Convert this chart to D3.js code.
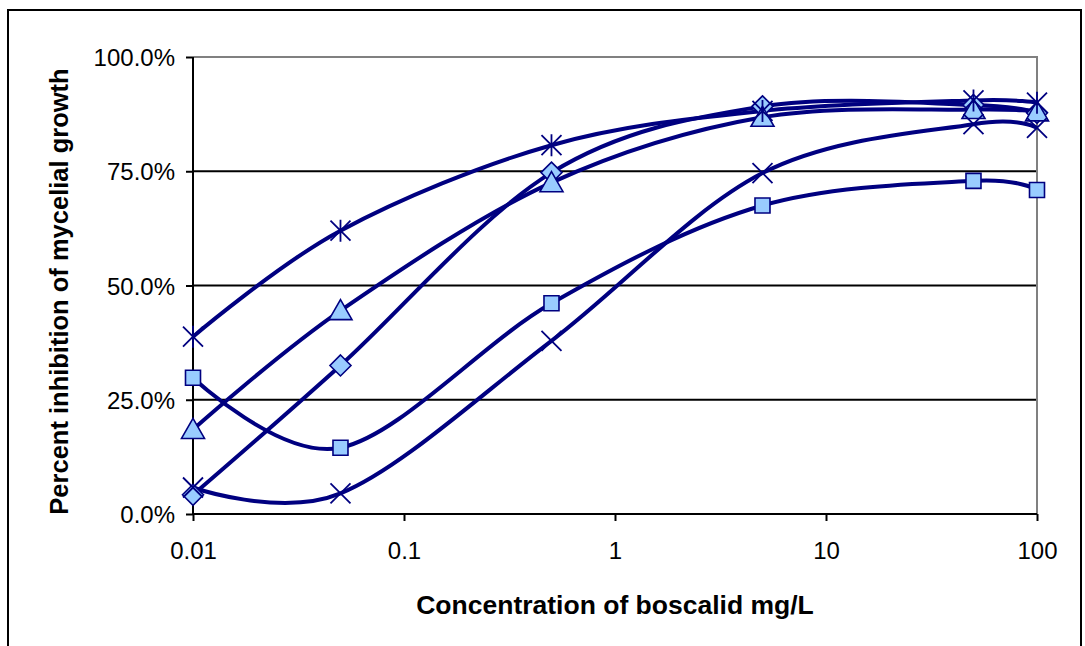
<!DOCTYPE html>
<html>
<head>
<meta charset="utf-8">
<script src="https://cdn.jsdelivr.net/npm/d3@7"></script>
<style>
  html, body { margin: 0; padding: 0; background: #ffffff; }
  svg { display: block; font-family: Arial, "Liberation Sans", sans-serif; }
</style>
</head>
<body>
<svg id="chart" width="1085" height="646"></svg>
<script>
// Boscalid concentrations (mg/L) and percent inhibition for each isolate
const concentrations = [0.01, 0.05, 0.5, 5, 50, 100];
const diamondSeries  = [0.042, 0.325, 0.747, 0.892, 0.895, 0.878];
const squareSeries   = [0.298, 0.145, 0.461, 0.675, 0.729, 0.709];
const triangleSeries = [0.185, 0.445, 0.725, 0.868, 0.885, 0.880];
const crossSeries    = [0.058, 0.045, 0.379, 0.746, 0.853, 0.845];
const starSeries     = [0.388, 0.620, 0.807, 0.882, 0.905, 0.900];
const xTickValues = [0.01, 0.1, 1, 10, 100];
const xTickLabels = ["0.01", "0.1", "1", "10", "100"];
const yTickValues = [0, 0.25, 0.5, 0.75, 1];

const series = [
  { values: diamondSeries,  marker: "diamond" },
  { values: squareSeries,   marker: "square" },
  { values: triangleSeries, marker: "triangle" },
  { values: crossSeries,    marker: "cross" },
  { values: starSeries,     marker: "star" }
];

const LINE = "#000080";
const FILL = "#99CCFF";

const svg = d3.select("#chart");
const plot = { left: 193, right: 1037, top: 57, bottom: 514 };

// Outer chart frame
svg.append("rect")
  .attr("x", 8).attr("y", 10).attr("width", 1073).attr("height", 700)
  .attr("fill", "#fff").attr("stroke", "#000").attr("stroke-width", 2);

const x = d3.scaleLog().domain([0.01, 100]).range([plot.left, plot.right]);
const y = d3.scaleLinear().domain([0, 1]).range([plot.bottom, plot.top]);

// Horizontal gridlines
svg.append("g").selectAll("line")
  .data(yTickValues.filter(v => v > 0 && v < 1))
  .join("line")
  .attr("x1", plot.left).attr("x2", plot.right)
  .attr("y1", d => y(d)).attr("y2", d => y(d))
  .attr("stroke", "#000").attr("stroke-width", 2);

// Plot-area border (top and right)
svg.append("path")
  .attr("d", `M${plot.left},${y(1)}H${plot.right}V${plot.bottom}`)
  .attr("fill", "none").attr("stroke", "#808080").attr("stroke-width", 2);

// Y axis
const yAxis = d3.axisLeft(y).tickValues(yTickValues)
  .tickFormat(d3.format(".1%")).tickSize(7).tickPadding(11);
const gy = svg.append("g").attr("transform", `translate(${plot.left},0)`).call(yAxis);
gy.select(".domain").attr("stroke", "#000").attr("stroke-width", 2)
  .attr("d", `M0,${plot.top}V${plot.bottom}`);
gy.selectAll(".tick line").attr("stroke", "#000").attr("stroke-width", 2);
gy.selectAll(".tick text").attr("font-size", 24).attr("fill", "#000")
  .attr("font-family", "Arial, 'Liberation Sans', sans-serif").attr("dy", "0.36em");

// X axis
const xAxis = d3.axisBottom(x).tickValues(xTickValues)
  .tickFormat((d, i) => xTickLabels[i]).tickSize(7).tickPadding(21);
const gx = svg.append("g").attr("transform", `translate(0,${plot.bottom})`).call(xAxis);
gx.select(".domain").attr("stroke", "#000").attr("stroke-width", 2)
  .attr("d", `M${plot.left},0H${plot.right}`);
gx.selectAll(".tick line").attr("stroke", "#000").attr("stroke-width", 2);
gx.selectAll(".tick text").attr("font-size", 24).attr("fill", "#000")
  .attr("font-family", "Arial, 'Liberation Sans', sans-serif");

// Axis titles
svg.append("text")
  .attr("x", (plot.left + plot.right) / 2).attr("y", 614)
  .attr("text-anchor", "middle").attr("font-size", 26.5).attr("font-weight", "bold")
  .text("Concentration of boscalid mg/L");
svg.append("text")
  .attr("transform", `translate(68,${(plot.top + plot.bottom) / 2 + 6}) rotate(-90)`)
  .attr("text-anchor", "middle").attr("font-size", 25.5).attr("font-weight", "bold")
  .text("Percent inhibition of mycelial growth");

// Smoothed series lines
const line = d3.line()
  .x((d, i) => x(concentrations[i]))
  .y(d => y(d))
  .curve(d3.curveCardinal.tension(0));

svg.append("g").selectAll("path")
  .data(series)
  .join("path")
  .attr("d", s => line(s.values))
  .attr("fill", "none").attr("stroke", LINE).attr("stroke-width", 4)
  .attr("stroke-linejoin", "round");

// Marker shapes
function markerPath(type) {
  switch (type) {
    case "diamond": return "M0,-10.5L10.5,0L0,10.5L-10.5,0Z";
    case "square": return "M-7.5,-7.5H7.5V7.5H-7.5Z";
    case "triangle": return "M0,-11L11.5,9L-11.5,9Z";
    case "cross": return "M-10,-10L10,10M10,-10L-10,10";
    case "star": return "M-10,-10L10,10M10,-10L-10,10M0,-11V11";
  }
}

series.forEach(s => {
  const open = s.marker === "cross" || s.marker === "star";
  svg.append("g").selectAll("path")
    .data(s.values)
    .join("path")
    .attr("transform", (d, i) => `translate(${x(concentrations[i])},${y(d)})`)
    .attr("d", markerPath(s.marker))
    .attr("fill", open ? "none" : FILL)
    .attr("stroke", LINE)
    .attr("stroke-width", open ? 1.8 : 1.6)
    .attr("stroke-linejoin", "miter");
});
</script>
</body>
</html>
